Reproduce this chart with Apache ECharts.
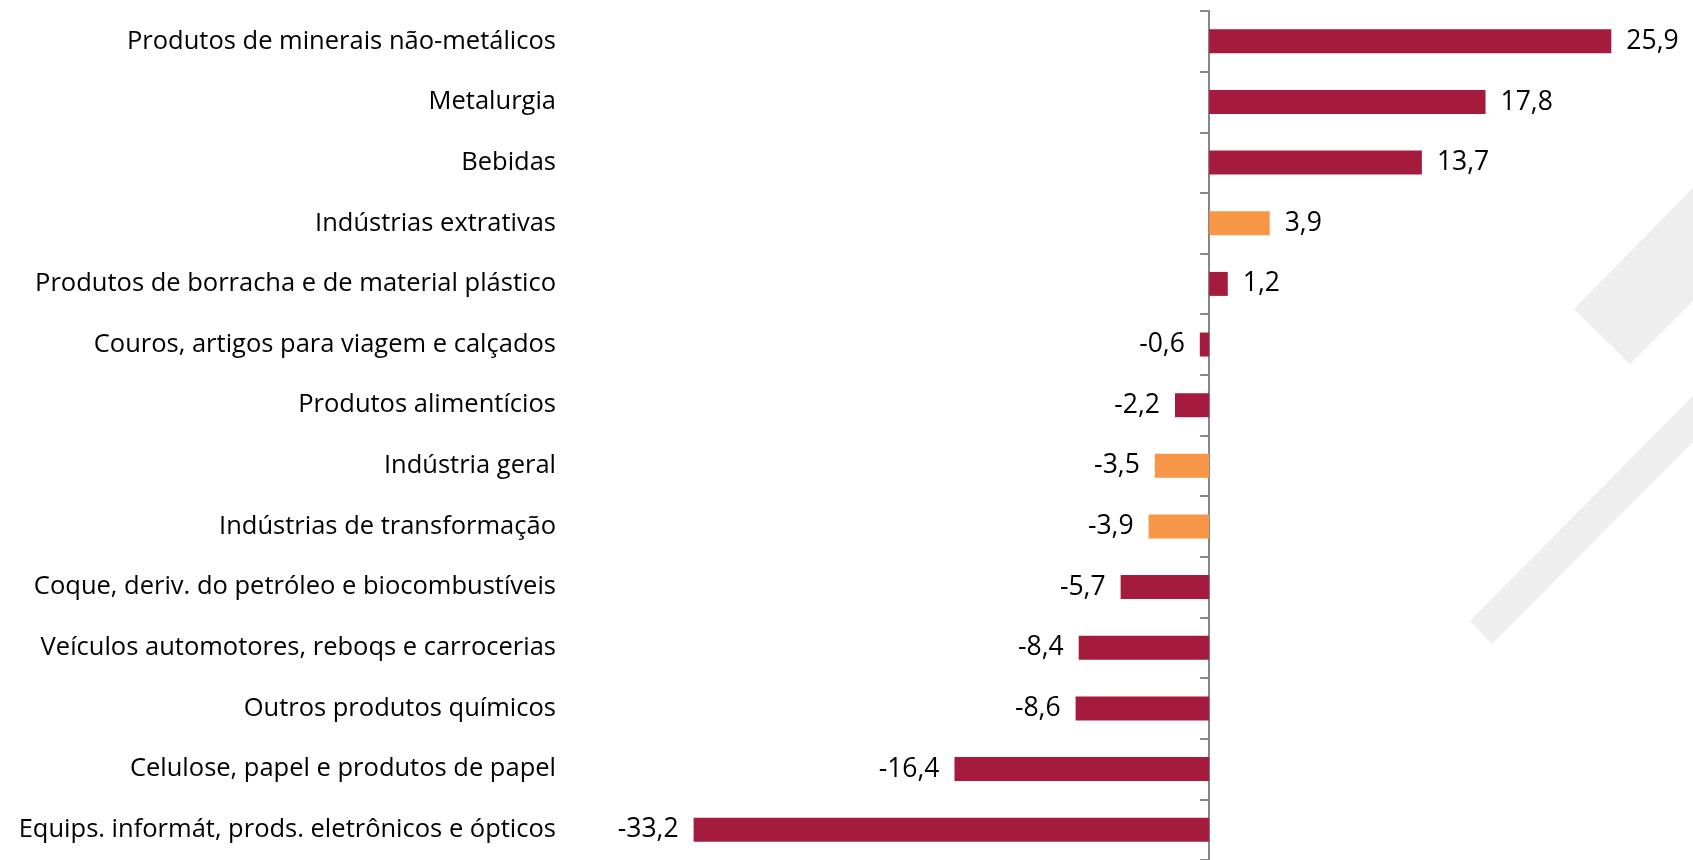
<!DOCTYPE html>
<html>
<head>
<meta charset="utf-8">
<script src="https://cdn.jsdelivr.net/npm/echarts@6/dist/echarts.min.js"></script>
<style>
html,body{margin:0;padding:0;background:#fff;}
#chart{width:1693px;height:860px;}
</style>
</head>
<body>
<div id="chart"></div>
<script>
const categories = [
  'Produtos de minerais não-metálicos',
  'Metalurgia',
  'Bebidas',
  'Indústrias extrativas',
  'Produtos de borracha e de material plástico',
  'Couros, artigos para viagem e calçados',
  'Produtos alimentícios',
  'Indústria geral',
  'Indústrias de transformação',
  'Coque, deriv. do petróleo e biocombustíveis',
  'Veículos automotores, reboqs e carrocerias',
  'Outros produtos químicos',
  'Celulose, papel e produtos de papel',
  'Equips. informát, prods. eletrônicos e ópticos'
];
const values = [25.9, 17.8, 13.7, 3.9, 1.2, -0.6, -2.2, -3.5, -3.9, -5.7, -8.4, -8.6, -16.4, -33.2];
const highlighted = ['Indústrias extrativas', 'Indústria geral', 'Indústrias de transformação'];

const RED = '#A51B3D';
const ORANGE = '#F79646';
const FONT = 'Open Sans';

const seriesData = values.map((v, i) => ({
  value: v,
  itemStyle: { color: highlighted.includes(categories[i]) ? ORANGE : RED },
  label: { position: v >= 0 ? 'right' : 'left' }
}));

const chart = echarts.init(document.getElementById('chart'), null, { renderer: 'canvas' });
chart.setOption({
  animation: false,
  backgroundColor: '#ffffff',
  graphic: [
    { type: 'polygon', z: -10, silent: true,
      shape: { points: [[1574, 309], [1693, 188], [1693, 301], [1630, 364]] },
      style: { fill: '#EEEEEE' } },
    { type: 'polygon', z: -10, silent: true,
      shape: { points: [[1470, 621], [1693, 396], [1693, 442], [1492, 644]] },
      style: { fill: '#EEEEEE' } }
  ],
  grid: { left: 588, right: 18, top: 11, height: 851 },
  xAxis: {
    type: 'value', min: -40, max: 30, show: false
  },
  yAxis: [
    {
      type: 'category', data: categories, inverse: true, position: 'left',
      axisLine: { show: false, onZero: false },
      axisTick: { show: false },
      axisLabel: { margin: 32, fontFamily: FONT, fontSize: 25.5, color: '#000' }
    },
    {
      type: 'category', data: categories, inverse: true, position: 'left',
      axisLine: { show: true, onZero: true, lineStyle: { color: '#868686', width: 2 } },
      axisTick: { show: true, length: 9, lineStyle: { color: '#868686', width: 2 } },
      axisLabel: { show: false }
    }
  ],
  series: [{
    type: 'bar',
    yAxisIndex: 0,
    data: seriesData,
    barWidth: 24,
    label: {
      show: true, distance: 15,
      fontFamily: FONT, fontSize: 26.5, color: '#000',
      formatter: p => p.value.toFixed(1).replace('.', ',')
    }
  }]
});
</script>
</body>
</html>
